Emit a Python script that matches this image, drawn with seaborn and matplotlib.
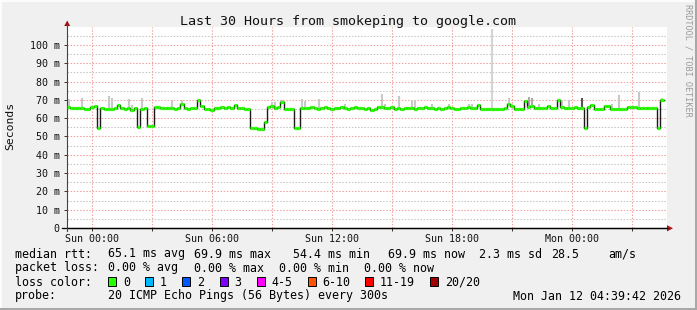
import numpy as np
import pandas as pd
import matplotlib
matplotlib.use("Agg")
import matplotlib.pyplot as plt
import matplotlib.dates as mdates
from matplotlib.patches import Rectangle, Polygon
import seaborn as sns

# ---------------- data ----------------
start_time = "2026-01-10 22:45"
step_minutes = 10

median_ms = [
    66.3, 65.6, 65.8, 65.4, 65.6, 65.0, 65.2, 66.2, 66.7, 54.8,
    65.4, 65.0, 65.2, 65.0, 65.3, 67.0, 65.6, 65.0, 65.5, 64.6,
    65.8, 55.0, 65.2, 65.4, 55.5, 55.5, 66.0, 66.2, 65.8, 65.6,
    65.6, 65.4, 65.0, 65.5, 67.8, 65.6, 65.2, 65.5, 65.8, 69.9,
    66.5, 65.2, 65.0, 64.6, 65.5, 65.8, 66.2, 65.6, 66.0, 65.5,
    67.0, 65.5, 65.8, 65.2, 65.0, 54.5, 54.4, 54.3, 54.3, 57.9,
    66.0, 66.4, 65.8, 66.0, 69.0, 65.0, 65.2, 65.0, 54.6, 54.6,
    65.5, 65.8, 65.3, 66.0, 65.6, 65.2, 65.8, 66.2, 65.5, 65.0,
    65.3, 65.8, 66.2, 65.6, 65.0, 65.5, 66.0, 65.4, 65.8, 65.2,
    65.8, 64.6, 64.8, 66.2, 66.0, 65.5, 65.3, 66.0, 65.2, 65.6,
    65.0, 65.4, 65.8, 65.5, 65.0, 65.3, 65.6, 66.0, 65.4, 65.8,
    65.2, 65.6, 65.0, 65.4, 66.0, 65.5, 65.2, 64.8, 65.3, 65.6,
    66.0, 65.8, 65.4, 67.2, 65.0, 65.0, 65.0, 65.0, 65.2, 65.0,
    65.0, 65.4, 67.5, 66.5, 65.2, 65.0, 65.2, 69.4, 66.0, 66.6,
    65.6, 65.5, 65.3, 65.6, 66.8, 65.4, 65.5, 69.9, 66.0, 65.6,
    65.8, 65.5, 66.0, 65.6, 65.5, 54.6, 66.0, 67.0, 65.0, 65.0,
    65.0, 66.9, 66.9, 65.0, 65.0, 65.0, 65.2, 65.0, 66.2, 66.0,
    66.2, 65.6, 65.5, 65.6, 65.3, 65.6, 65.5, 54.6, 69.9, np.nan,
]

spike_bins = [0, 4, 12, 13, 18, 19, 22, 31, 34,
              61, 62, 64, 70, 71, 75, 83,
              94, 95, 99, 103, 104, 109, 114, 120, 121, 127,
              132, 133, 138, 139, 141, 147, 148, 150, 154,
              163, 165, 171, 178]
spike_top_ms = [70.5, 70.9, 72.1, 71.0, 70.5, 67.0, 71.0, 70.0, 69.7,
                68.7, 68.7, 70.0, 70.5, 69.5, 70.5, 67.5,
                73.0, 68.0, 72.2, 70.0, 70.0, 68.0, 68.0, 67.5, 67.5, 108.5,
                70.9, 68.0, 71.5, 71.0, 68.0, 70.5, 70.0, 70.0, 70.9,
                68.0, 72.7, 74.4, 70.9]
dark_spike_bins = [154]
mid_spike_bins = [138, 139]

y_ticks_ms = [0, 10, 20, 30, 40, 50, 60, 70, 80, 90, 100]
y_tick_labels = ["0", "10 m", "20 m", "30 m", "40 m", "50 m",
                 "60 m", "70 m", "80 m", "90 m", "100 m"]
y_minor_ms = [5, 15, 25, 35, 45, 55, 65, 75, 85, 95, 105]

x_major_times = ["2026-01-11 00:00", "2026-01-11 03:00", "2026-01-11 06:00",
                 "2026-01-11 09:00", "2026-01-11 12:00", "2026-01-11 15:00",
                 "2026-01-11 18:00", "2026-01-11 21:00", "2026-01-12 00:00",
                 "2026-01-12 03:00"]
x_major_labels = ["Sun 00:00", "", "Sun 06:00", "", "Sun 12:00", "",
                  "Sun 18:00", "", "Mon 00:00", ""]

title_text = "Last 30 Hours from smokeping to google.com"
y_label = "Seconds"
side_text = "RRDTOOL / TOBI OETIKER"

loss_labels = ["0", "1", "2", "3", "4-5", "6-10", "11-19", "20/20"]
loss_colors = ["#26ff00", "#00b8ff", "#0059ff", "#7e00ff", "#ff00ff",
               "#ff5500", "#ff0000", "#a10000"]

# ---------------- figure ----------------
plt.rcParams['font.family'] = ['DejaVu Sans Mono']
W, H = 697, 310
fig = plt.figure(figsize=(W / 100, H / 100), dpi=100)
fig.patch.set_facecolor('#f0f0f0')

ax = fig.add_axes([67 / W, 1 - 228 / H, 600 / W, 201 / H])
ax.set_facecolor('white')

median = np.array(median_ms, dtype=float)
n = len(median)
times = pd.date_range(start_time, periods=n + 1, freq=f"{step_minutes}min")
x_edges = mdates.date2num(times.to_pydatetime())
x_start = x_edges[:-1]
x_end = x_edges[1:]
x_mid = (x_start + x_end) / 2
valid = ~np.isnan(median)

# smoke spikes
for b, top in zip(spike_bins, spike_top_ms):
    if b in dark_spike_bins:
        col = '#555555'
    elif b in mid_spike_bins:
        col = '#aaaaaa'
    elif top > 100:
        col = '#d4d4d4'
    else:
        col = '#c8c8c8'
    ax.vlines(x_mid[b], median[b], top, colors=col, lw=1.5, zorder=2)

# median black step line
bx = np.append(x_start[valid], x_end[valid][-1])
by = np.append(median[valid], median[valid][-1])
df = pd.DataFrame({"t": bx, "ms": by})
sns.lineplot(data=df, x="t", y="ms", ax=ax, drawstyle="steps-post",
             color="#1a1a1a", lw=1.0, zorder=3, estimator=None)

# loss-coloured median segments (all loss 0)
ax.hlines(median[valid], x_start[valid], x_end[valid],
          colors=loss_colors[0], lw=2.3, zorder=4)

ax.set_xlim(x_edges[0], x_edges[-1])
ax.set_ylim(0, 109.8)

maj = mdates.date2num(pd.to_datetime(x_major_times).to_pydatetime())
hours = pd.date_range("2026-01-10 23:00", "2026-01-12 04:00", freq="1h")
minor = [h for h in mdates.date2num(hours.to_pydatetime())
         if not np.any(np.isclose(h, maj))]
ax.set_xticks(maj)
ax.set_xticklabels(x_major_labels)
ax.set_xticks(minor, minor=True)
ax.set_yticks(y_ticks_ms)
ax.set_yticklabels(y_tick_labels)
ax.set_yticks(y_minor_ms, minor=True)

dot = (0, (1.4, 1.6))
ax.grid(which='minor', color='#c4c4c4', lw=0.75, linestyle=dot)
ax.grid(which='major', color='#f2a0a0', lw=0.75, linestyle=dot)
ax.set_axisbelow(True)
ax.set_xlabel("")
ax.set_ylabel("")

ax.tick_params(axis='both', which='major', length=2, width=0.7,
               color='#333333', labelsize=7.2, labelcolor='#111111')
ax.tick_params(axis='x', which='major', pad=2.5)
ax.tick_params(axis='y', which='major', pad=3.2)
ax.tick_params(axis='both', which='minor', length=0)

for s in ['top', 'right']:
    ax.spines[s].set_visible(False)
ax.spines['left'].set_color('#444444')
ax.spines['left'].set_linewidth(0.8)
ax.spines['bottom'].set_color('#000000')
ax.spines['bottom'].set_linewidth(0.9)

# ---------------- overlay (pixel coords) ----------------
ov = fig.add_axes([0, 0, 1, 1], zorder=10)
ov.set_xlim(0, W)
ov.set_ylim(H, 0)
ov.axis('off')
ov.patch.set_visible(False)

# 3D border
ov.plot([0.5, 0.5], [0, H], color='#ffffff', lw=1.2)
ov.plot([0, W], [0.5, 0.5], color='#ffffff', lw=1.2)
ov.plot([W - 1.5, W - 1.5], [0, H], color='#a8a8a8', lw=2.2)
ov.plot([0, W], [H - 1.5, H - 1.5], color='#a8a8a8', lw=2.2)

# axis extensions and arrows
ov.plot([62, 667], [228.3, 228.3], color='#000000', lw=0.9)
ov.plot([67.2, 67.2], [228, 231], color='#444444', lw=0.8)
ov.plot([67.2, 67.2], [27, 24], color='#444444', lw=0.8)
ov.add_patch(Polygon([(64.2, 26), (70.2, 26), (67.2, 20.5)],
                     closed=True, color='#a01414', lw=0))
ov.add_patch(Polygon([(667, 225.2), (667, 231.4), (673, 228.3)],
                     closed=True, color='#a01414', lw=0))

# title, labels
ov.text(W / 2, 24.5, title_text, ha='center', va='baseline', fontsize=9.6,
        color='#111111')
ov.text(10.5, 126, y_label, ha='center', va='center', rotation=90,
        fontsize=8.2, color='#111111')
ov.text(688, 4, side_text, ha='center', va='top', rotation=270,
        fontsize=6.1, color='#9a9a9a')

fs = 8.35
rows = [257.5, 271.5, 285.5, 299.5]
col0 = 15
# row 1
ov.text(col0, rows[0], "median rtt:", fontsize=fs, va='baseline')
for x, s in [(107.5, "65.1 ms avg"), (194, "69.9 ms max"),
             (293, "54.4 ms min"), (387.5, "69.9 ms now"),
             (479, "2.3 ms sd"), (551, "28.5"), (608, "am/s")]:
    ov.text(x, rows[0], s, fontsize=fs, va='baseline')
# row 2
ov.text(col0, rows[1], "packet loss:", fontsize=fs, va='baseline')
for x, s in [(107.5, "0.00 % avg"), (194, "0.00 % max"),
             (279, "0.00 % min"), (364, "0.00 % now")]:
    ov.text(x, rows[1], s, fontsize=fs, va='baseline')
# row 3
ov.text(col0, rows[2], "loss color:", fontsize=fs, va='baseline')
box_x = [108, 145, 182, 219.5, 256.5, 307.5, 365, 430]
for bxp, lab, colr in zip(box_x, loss_labels, loss_colors):
    ov.add_patch(Rectangle((bxp, rows[2] - 8.2), 8.4, 9.0, facecolor=colr,
                           edgecolor='#000000', lw=0.7))
    ov.text(bxp + 15, rows[2], lab, fontsize=fs, va='baseline')
# row 4
ov.text(col0, rows[3], "probe:", fontsize=fs, va='baseline')
ov.text(107.5, rows[3], "20 ICMP Echo Pings (56 Bytes) every 300s",
        fontsize=fs, va='baseline')
ov.text(681, rows[3], "Mon Jan 12 04:39:42 2026", fontsize=fs,
        va='baseline', ha='right')

fig.savefig("out.png", dpi=100, facecolor=fig.get_facecolor())
